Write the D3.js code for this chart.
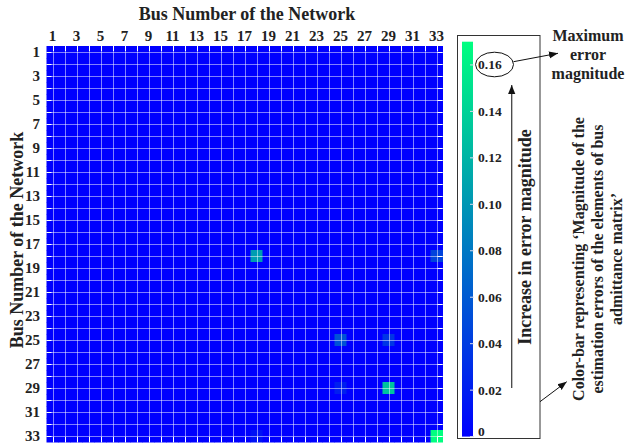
<!DOCTYPE html>
<html>
<head>
<meta charset="utf-8">
<script src="https://cdn.jsdelivr.net/npm/d3@7"></script>
<style>
  body { margin: 0; background: #fff; }
  svg text { font-family: "Liberation Serif", "Times New Roman", serif; font-weight: bold; fill: #222; }
</style>
</head>
<body>
<svg id="chart" width="625" height="443"></svg>
<script>
// bus numbers 1..33
var buses = d3.range(1, 34);
var busLabels = buses.filter(function(b){ return b % 2 == 1; });

// non-zero entries of the error matrix (everything else is 0)
var errRows   = [18, 18, 25, 25, 29, 29, 33, 33];
var errCols   = [18, 33, 25, 29, 25, 29, 33, 18];
var errValues = [0.105, 0.045, 0.055, 0.035, 0.02, 0.13, 0.17, 0.012];

var cbTicks = [0, 0.02, 0.04, 0.06, 0.08, 0.10, 0.12, 0.14, 0.16];
var cbMax = 0.17;

// build the full matrix
var cells = [];
buses.forEach(function(r){
  buses.forEach(function(c){
    cells.push({row: r, col: c, value: 0});
  });
});
errRows.forEach(function(r, i){
  cells[(r - 1) * 33 + (errCols[i] - 1)].value = errValues[i];
});

var svg = d3.select("#chart");

var x = d3.scaleBand().domain(buses).range([46.5, 442.5]);
var y = d3.scaleBand().domain(buses).range([46, 442]);
var color = d3.scaleLinear().domain([0, cbMax]).range(["#0000ff", "#00ff80"]);

// heatmap cells
svg.append("g").selectAll("rect")
  .data(cells)
  .enter().append("rect")
  .attr("x", function(d){ return x(d.col); })
  .attr("y", function(d){ return y(d.row); })
  .attr("width", x.bandwidth() + 0.5)
  .attr("height", y.bandwidth() + 0.5)
  .attr("fill", function(d){ return color(d.value); });

// grid lines through cell centres
var grid = svg.append("g").attr("stroke", "#fff").attr("stroke-opacity", 0.5).attr("stroke-width", 1);
buses.forEach(function(b){
  var cx = Math.round(x(b) + x.bandwidth() / 2) + 0.5, cy = Math.round(y(b) + y.bandwidth() / 2) + 0.5;
  grid.append("line").attr("x1", cx).attr("x2", cx).attr("y1", 46).attr("y2", 443);
  grid.append("line").attr("x1", 46.5).attr("x2", 443).attr("y1", cy).attr("y2", cy);
});

// tick marks on all four sides
var tk = svg.append("g").attr("stroke", "#fff").attr("stroke-width", 1);
buses.forEach(function(b){
  var cx = Math.round(x(b) + x.bandwidth() / 2) + 0.5, cy = Math.round(y(b) + y.bandwidth() / 2) + 0.5;
  tk.append("line").attr("x1", cx).attr("x2", cx).attr("y1", 46).attr("y2", 51);
  tk.append("line").attr("x1", cx).attr("x2", cx).attr("y1", 437).attr("y2", 442);
  tk.append("line").attr("x1", 46.5).attr("x2", 51.5).attr("y1", cy).attr("y2", cy);
  tk.append("line").attr("x1", 437.5).attr("x2", 442.5).attr("y1", cy).attr("y2", cy);
});

// axis labels
var xAxis = svg.append("g")
  .attr("transform", "translate(0,41)")
  .call(d3.axisTop(x).tickValues(busLabels).tickSize(0).tickPadding(0));
xAxis.select(".domain").remove();
xAxis.attr("font-family", null).attr("font-size", null);
xAxis.selectAll("text").style("font-size", "15px").style("fill", "#222");

var yAxis = svg.append("g")
  .attr("transform", "translate(40,0)")
  .call(d3.axisLeft(y).tickValues(busLabels).tickSize(0).tickPadding(0));
yAxis.select(".domain").remove();
yAxis.attr("font-family", null).attr("font-size", null);
yAxis.selectAll("text").style("font-size", "15px").style("fill", "#222");

svg.append("text")
  .attr("x", 247).attr("y", 20)
  .attr("text-anchor", "middle")
  .style("font-size", "18px")
  .text("Bus Number of the Network");

svg.append("text")
  .attr("transform", "translate(23,240) rotate(-90)")
  .attr("text-anchor", "middle")
  .style("font-size", "18px")
  .text("Bus Number of the Network");

// colour bar
var cbY = d3.scaleLinear().domain([0, cbMax]).range([436.6, 41.7]);
var defs = svg.append("defs");
var grad = defs.append("linearGradient").attr("id", "cbgrad")
  .attr("x1", 0).attr("y1", 1).attr("x2", 0).attr("y2", 0);
grad.append("stop").attr("offset", "0%").attr("stop-color", color(0));
grad.append("stop").attr("offset", "100%").attr("stop-color", color(cbMax));

svg.append("rect")
  .attr("x", 457.5).attr("y", 35.5).attr("width", 82.5).attr("height", 403)
  .attr("fill", "#fff").attr("stroke", "#333").attr("stroke-width", 1);

svg.append("rect")
  .attr("x", 462).attr("y", cbY(cbMax)).attr("width", 11)
  .attr("height", cbY(0) - cbY(cbMax))
  .attr("fill", "url(#cbgrad)");

var cb = svg.append("g");
cb.selectAll("line")
  .data(cbTicks)
  .enter().append("line")
  .attr("x1", 470).attr("x2", 474)
  .attr("y1", function(d){ return cbY(d); })
  .attr("y2", function(d){ return cbY(d); })
  .attr("stroke", "#dde").attr("stroke-width", 1);
cb.selectAll("text")
  .data(cbTicks)
  .enter().append("text")
  .attr("x", 478)
  .attr("y", function(d){ return Math.min(cbY(d), 431) + 4.5; })
  .style("font-size", "13.5px")
  .text(function(d){ return d == 0 ? "0" : d3.format(".2f")(d); });

// annotations
defs.append("marker").attr("id", "arr")
  .attr("viewBox", "0 0 10 10").attr("refX", 10).attr("refY", 5)
  .attr("markerWidth", 9).attr("markerHeight", 9)
  .attr("markerUnits", "userSpaceOnUse")
  .attr("orient", "auto")
  .append("path").attr("d", "M0,1 L10,5 L0,9 z").attr("fill", "#111");

svg.append("ellipse")
  .attr("cx", 494.5).attr("cy", 64.5).attr("rx", 19).attr("ry", 12.3)
  .attr("fill", "none").attr("stroke", "#111").attr("stroke-width", 1);

svg.append("line")
  .attr("x1", 513.5).attr("y1", 61.7).attr("x2", 558).attr("y2", 53.3)
  .attr("stroke", "#111").attr("stroke-width", 1).attr("marker-end", "url(#arr)");

var maxLines = ["Maximum", "error", "magnitude"];
svg.append("g").selectAll("text")
  .data(maxLines)
  .enter().append("text")
  .attr("x", 588)
  .attr("y", function(d, i){ return 40.5 + i * 19.2; })
  .attr("text-anchor", "middle")
  .style("font-size", "16px")
  .text(function(d){ return d; });

svg.append("line")
  .attr("x1", 511.7).attr("y1", 388).attr("x2", 511.7).attr("y2", 85)
  .attr("stroke", "#444").attr("stroke-width", 1.3).attr("marker-end", "url(#arr)");

svg.append("text")
  .attr("transform", "translate(531,237) rotate(-90)")
  .attr("text-anchor", "middle")
  .style("font-size", "18px")
  .text("Increase in error magnitude");

var cbLines = ["Color-bar representing \u2018Magnitude of the",
               "estimation errors of the elements of bus",
               "admittance matrix\u2019"];
svg.append("g").selectAll("text")
  .data(cbLines)
  .enter().append("text")
  .attr("transform", function(d, i){ return "translate(" + (584 + i * 19) + ",259) rotate(-90)"; })
  .attr("text-anchor", "middle")
  .style("font-size", "16px")
  .text(function(d){ return d; });

svg.append("line")
  .attr("x1", 540).attr("y1", 401.7).attr("x2", 566.7).attr("y2", 381.7)
  .attr("stroke", "#111").attr("stroke-width", 1).attr("marker-end", "url(#arr)");
</script>
</body>
</html>
